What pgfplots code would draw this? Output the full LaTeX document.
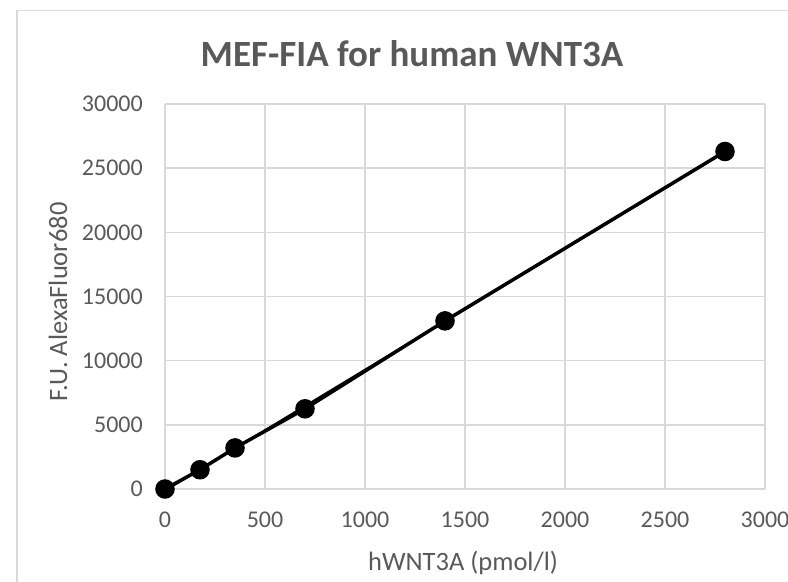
\documentclass[border=0pt]{standalone}
\usepackage{fontspec}
\setmainfont{Carlito}
\usepackage{pgfplots}
\pgfplotsset{compat=1.18}
\definecolor{txtgray}{HTML}{595959}
\definecolor{gridgray}{HTML}{D9D9D9}
\begin{document}
\begin{tikzpicture}
  \path[use as bounding box, clip] (0,0) rectangle (788bp,582bp);
  % chart border (cut off at right and bottom)
  \draw[gridgray, line width=1.5bp] (17bp,-20bp) -- (17bp,571.5bp) -- (820bp,571.5bp);

  \node[anchor=base, text=txtgray, font=\bfseries\fontsize{37bp}{40bp}\selectfont]
    at (412bp,515bp) {MEF-FIA for human WNT3A};
  \node[rotate=90, text=txtgray, font=\fontsize{26.5bp}{30bp}\selectfont]
    at (58bp,280bp) {F.U. AlexaFluor680};
  \node[anchor=base, text=txtgray, font=\fontsize{26.5bp}{30bp}\selectfont]
    at (463bp,12bp) {hWNT3A (pmol/l)};

  \begin{axis}[
      at={(165bp,93bp)}, anchor=south west,
      scale only axis,
      width=600bp, height=385bp,
      xmin=0, xmax=3000,
      ymin=0, ymax=30000,
      xtick={0,500,...,3000},
      ytick={0,5000,...,30000},
      scaled ticks=false,
      /pgf/number format/assume math mode=true,
      /pgf/number format/1000 sep={},
      major tick length=0pt,
      axis line style={draw=none},
      grid=major,
      major grid style={gridgray, line width=1.5bp},
      tick label style={text=txtgray, inner sep=0pt, font=\fontsize{24bp}{28bp}\selectfont},
      yticklabel style={anchor=east, xshift=-22bp},
      xticklabel style={anchor=north, yshift=-23bp},
      clip=false,
    ]
      % linear trendline (Excel)
      \addplot[black, line width=2bp] coordinates {
        (0,-133)
        (2800,26265)
      };
      % measured values
      \addplot[black, line width=3.5bp, mark=*, mark size=8bp] coordinates {
        (0,0)
        (175,1500)
        (350,3200)
        (700,6250)
        (1400,13100)
        (2800,26300)
      };
  \end{axis}
\end{tikzpicture}
\end{document}
